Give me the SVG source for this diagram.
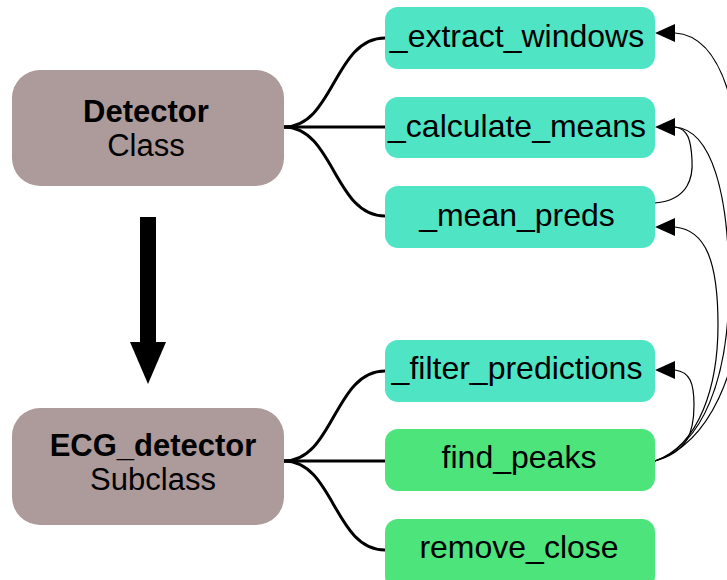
<svg xmlns="http://www.w3.org/2000/svg" width="727" height="580" viewBox="0 0 727 580">
  <style>
    .cls rect { fill: #ad9a9a; }
    .priv rect { fill: #4fe5c4; }
    .pub rect { fill: #4de47c; }
    text { font-family: "Liberation Sans", Arial, sans-serif; fill: #000; text-anchor: middle; }
    .name { font-weight: bold; font-size: 31px; }
    .kind { font-size: 31px; }
    .meth { font-size: 32px; }
    .tree { fill: none; stroke: #000; stroke-width: 3; }
    .call { fill: none; stroke: #000; stroke-width: 1.2; }
    .head { fill: #000; }
  </style>

  <g id="connectors">
    <!-- class to method tree links -->
    <path class="tree" d="M284,127 C334,127 334,38 385,38"/>
    <path class="tree" d="M284,127 L385,127"/>
    <path class="tree" d="M284,127 C334,127 334,216 385,216"/>
    <path class="tree" d="M284,461 C334,461 334,371 385,371"/>
    <path class="tree" d="M284,461 L385,461"/>
    <path class="tree" d="M284,461 C334,461 334,550 385,550"/>

    <!-- inheritance arrow -->
    <rect class="head" x="140" y="217" width="16" height="127"/>
    <polygon class="head" points="130,342 166,342 148,384"/>

    <!-- method call links -->
    <path class="call" d="M655,461 C705,445 745,380 745,250 C745,120 725,36 675,33"/>
    <path class="call" d="M655,461 C702,445 729,380 729,285 C729,195 712,130 675,127"/>
    <path class="call" d="M655,461 C700,445 718,385 718,325 C718,262 706,230 675,227"/>
    <path class="call" d="M655,461 C688,452 694,432 694,405 C694,383 690,372 675,370"/>
    <path class="call" d="M655,203 C690,200 693,175 692,160 C691,140 688,129 675,127"/>
    <polygon class="head" points="655,33 675,24 675,42"/>
    <polygon class="head" points="655,127 675,118 675,136"/>
    <polygon class="head" points="655,227 675,218 675,236"/>
    <polygon class="head" points="655,370 675,361 675,379"/>
  </g>

  <g id="detector" class="cls">
    <rect x="12" y="70" width="272" height="116" rx="28"/>
    <text class="name" x="146" y="122">Detector</text>
    <text class="kind" x="146" y="156">Class</text>
  </g>

  <g id="ecg_detector" class="cls">
    <rect x="12" y="408" width="272" height="117" rx="28"/>
    <text class="name" x="153" y="456">ECG_detector</text>
    <text class="kind" x="153" y="490">Subclass</text>
  </g>

  <g id="extract_windows" class="priv">
    <rect x="385" y="7" width="270" height="62" rx="13"/>
    <text class="meth" x="517" y="47">_extract_windows</text>
  </g>

  <g id="calculate_means" class="priv">
    <rect x="385" y="97" width="270" height="61" rx="13"/>
    <text class="meth" x="517" y="137">_calculate_means</text>
  </g>

  <g id="mean_preds" class="priv">
    <rect x="385" y="186" width="270" height="62" rx="13"/>
    <text class="meth" x="517" y="226">_mean_preds</text>
  </g>

  <g id="filter_predictions" class="priv">
    <rect x="385" y="340" width="270" height="62" rx="13"/>
    <text class="meth" x="517" y="379">_filter_predictions</text>
  </g>

  <g id="find_peaks" class="pub">
    <rect x="385" y="429" width="270" height="62" rx="13"/>
    <text class="meth" x="519" y="468">find_peaks</text>
  </g>

  <g id="remove_close" class="pub">
    <rect x="385" y="519" width="270" height="70" rx="13"/>
    <text class="meth" x="519" y="558">remove_close</text>
  </g>
</svg>
